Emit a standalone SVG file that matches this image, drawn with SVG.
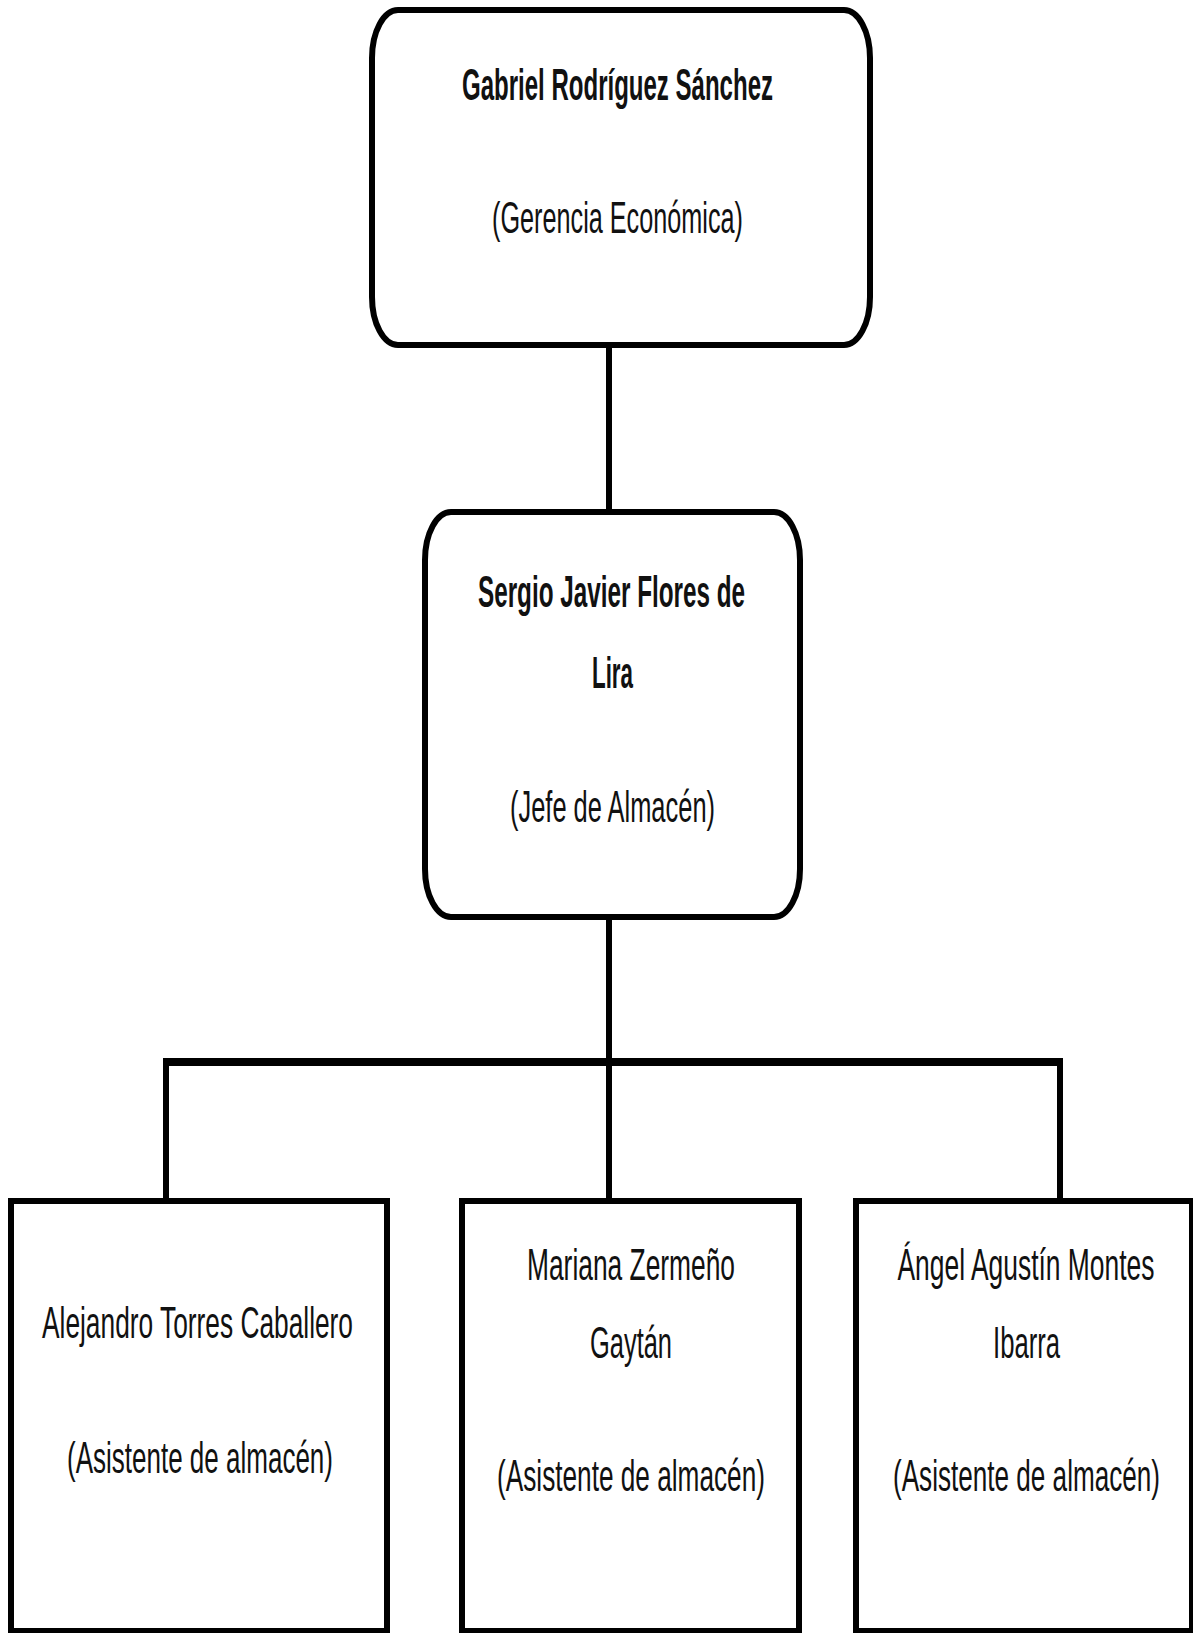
<svg xmlns="http://www.w3.org/2000/svg" width="1193" height="1633" viewBox="0 0 1193 1633">
<style>
.box{fill:#fff;stroke:#000;stroke-width:6}
.conn{stroke:#000;stroke-width:6;fill:none}
text{font-family:"Liberation Sans",Arial,sans-serif;font-size:44px;fill:#111;text-anchor:middle}
.b{font-weight:bold}
</style>
<rect width="1193" height="1633" fill="#fff"/>
<g id="connectors">
<line class="conn" x1="609" y1="345" x2="609" y2="512"/>
<line class="conn" x1="609" y1="917" x2="609" y2="1201"/>
<line class="conn" x1="163" y1="1062" x2="1063" y2="1062" style="stroke-width:8"/>
<line class="conn" x1="166" y1="1062" x2="166" y2="1201"/>
<line class="conn" x1="1060" y1="1062" x2="1060" y2="1201"/>
</g>
<g id="n-gabriel">
<rect class="box" x="372" y="10" width="498" height="335" rx="26" ry="48"/>
<text class="b" x="617.5" y="100" textLength="311" lengthAdjust="spacingAndGlyphs">Gabriel Rodríguez Sánchez</text>
<text x="617.5" y="233" textLength="251" lengthAdjust="spacingAndGlyphs">(Gerencia Económica)</text>
</g>
<g id="n-sergio">
<rect class="box" x="425" y="512" width="375" height="405" rx="26" ry="48"/>
<text class="b" x="611.5" y="607" textLength="267" lengthAdjust="spacingAndGlyphs">Sergio Javier Flores de</text>
<text class="b" x="612.5" y="688" textLength="41" lengthAdjust="spacingAndGlyphs">Lira</text>
<text x="612.5" y="822" textLength="205" lengthAdjust="spacingAndGlyphs">(Jefe de Almacén)</text>
</g>
<g id="n-alejandro">
<rect class="box" x="11" y="1201" width="376" height="430"/>
<text x="197.5" y="1338" textLength="311" lengthAdjust="spacingAndGlyphs">Alejandro Torres Caballero</text>
<text x="200" y="1473" textLength="266" lengthAdjust="spacingAndGlyphs">(Asistente de almacén)</text>
</g>
<g id="n-mariana">
<rect class="box" x="462" y="1201" width="337" height="430"/>
<text x="631" y="1280" textLength="208" lengthAdjust="spacingAndGlyphs">Mariana Zermeño</text>
<text x="631" y="1358" textLength="82" lengthAdjust="spacingAndGlyphs">Gaytán</text>
<text x="631" y="1491" textLength="268" lengthAdjust="spacingAndGlyphs">(Asistente de almacén)</text>
</g>
<g id="n-angel">
<rect class="box" x="856" y="1201" width="336" height="430"/>
<text x="1026" y="1280" textLength="257" lengthAdjust="spacingAndGlyphs">Ángel Agustín Montes</text>
<text x="1026.5" y="1358" textLength="67" lengthAdjust="spacingAndGlyphs">Ibarra</text>
<text x="1026.5" y="1491" textLength="267" lengthAdjust="spacingAndGlyphs">(Asistente de almacén)</text>
</g>
</svg>
